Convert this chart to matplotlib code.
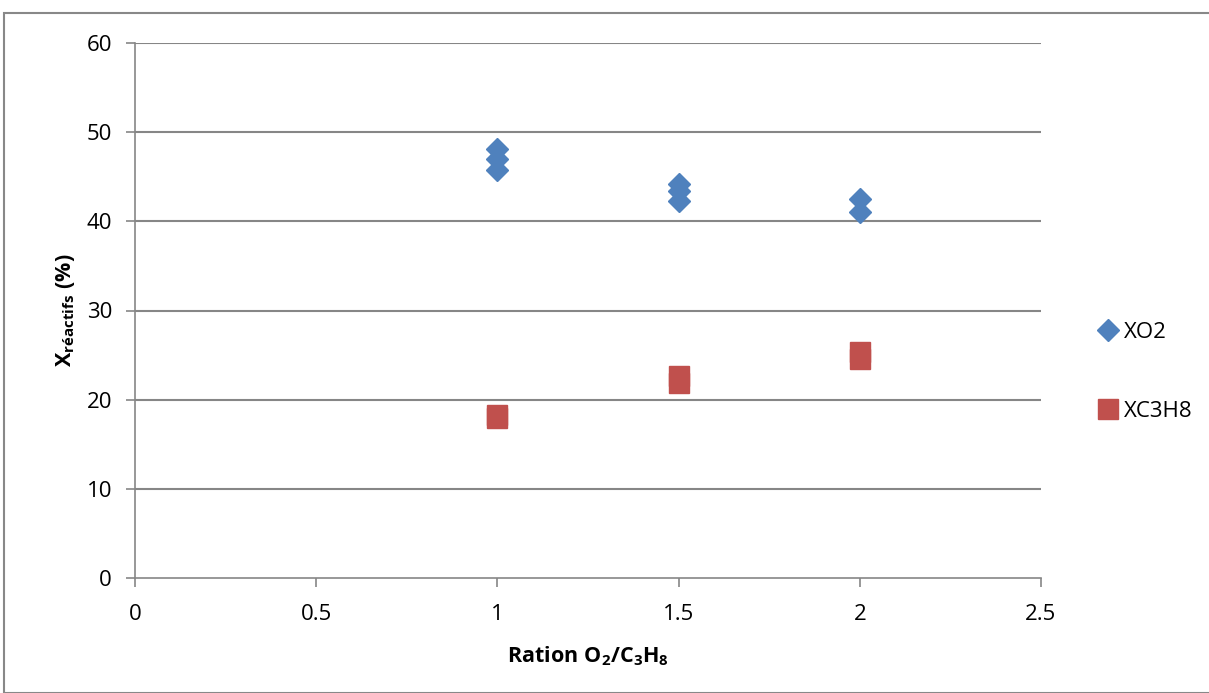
import matplotlib
matplotlib.use("Agg")
import matplotlib.pyplot as plt
from matplotlib.patches import Rectangle

FONT = 'Open Sans'
plt.rcParams['font.family'] = [FONT, 'DejaVu Sans']
plt.rcParams['mathtext.fontset'] = 'custom'
plt.rcParams['mathtext.rm'] = FONT
plt.rcParams['mathtext.bf'] = FONT + ':bold'
plt.rcParams['mathtext.it'] = FONT + ':italic'

x_o2 = [1, 1, 1, 1.5, 1.5, 1.5, 2, 2]
y_o2 = [48.1, 47.0, 45.8, 44.2, 43.4, 42.3, 42.5, 41.0]
x_c3h8 = [1, 1, 1.5, 1.5, 2, 2]
y_c3h8 = [18.3, 17.9, 22.6, 21.9, 25.3, 24.6]
xticks = [0, 0.5, 1, 1.5, 2, 2.5]
xticklabels = ['0', '0.5', '1', '1.5', '2', '2.5']
yticks = [0, 10, 20, 30, 40, 50, 60]

FS = 16
LFS = 15.5

W, H = 1209, 693
fig = plt.figure(figsize=(W / 100, H / 100), dpi=100)
ax = fig.add_axes([135 / W, 1 - 578 / H, (1041 - 135) / W, (578 - 43) / H])

grid_c = '#868686'
for yv in yticks[1:]:
    ax.axhline(yv, color=grid_c, lw=1.5, zorder=1)

ax.plot(x_o2, y_o2, linestyle='none', marker='D', ms=11, color='#4F81BD',
        markeredgecolor='#4F81BD', zorder=3, label='XO2')
ax.plot(x_c3h8, y_c3h8, linestyle='none', marker='s', ms=14.5, color='#C0504D',
        markeredgecolor='#C0504D', zorder=3, label='XC3H8')

ax.set_xlim(0, 2.5)
ax.set_ylim(0, 60)
ax.set_xticks(xticks)
ax.set_xticklabels(xticklabels)
ax.set_yticks(yticks)
ax.tick_params(axis='both', direction='out', length=6.5, width=1.2, color=grid_c,
               labelsize=FS)
ax.tick_params(axis='y', pad=10)
ax.tick_params(axis='x', pad=12)
for s in ['top', 'right']:
    ax.spines[s].set_visible(False)
for s in ['left', 'bottom']:
    ax.spines[s].set_color(grid_c)
    ax.spines[s].set_linewidth(1.2)

ax.set_xlabel(r'$\mathbf{Ration\ O_2/C_3H_8}$', fontsize=LFS, labelpad=14)
ax.set_ylabel(r'$\mathbf{X_{réactifs}\ (\%)}$', fontsize=LFS, labelpad=7)

fig.legend(loc='center left', bbox_to_anchor=(1086 / W, 1 - 372 / H),
           frameon=False, fontsize=FS, handletextpad=0.1, labelspacing=2.6,
           borderaxespad=0, handlelength=1.2)

fig.patches.append(Rectangle((4 / W, 0), 1.2, 1 - 13 / H, transform=fig.transFigure,
                             fill=False, edgecolor='#888888', lw=1.5, zorder=0))

fig.savefig('out.png', dpi=100)
